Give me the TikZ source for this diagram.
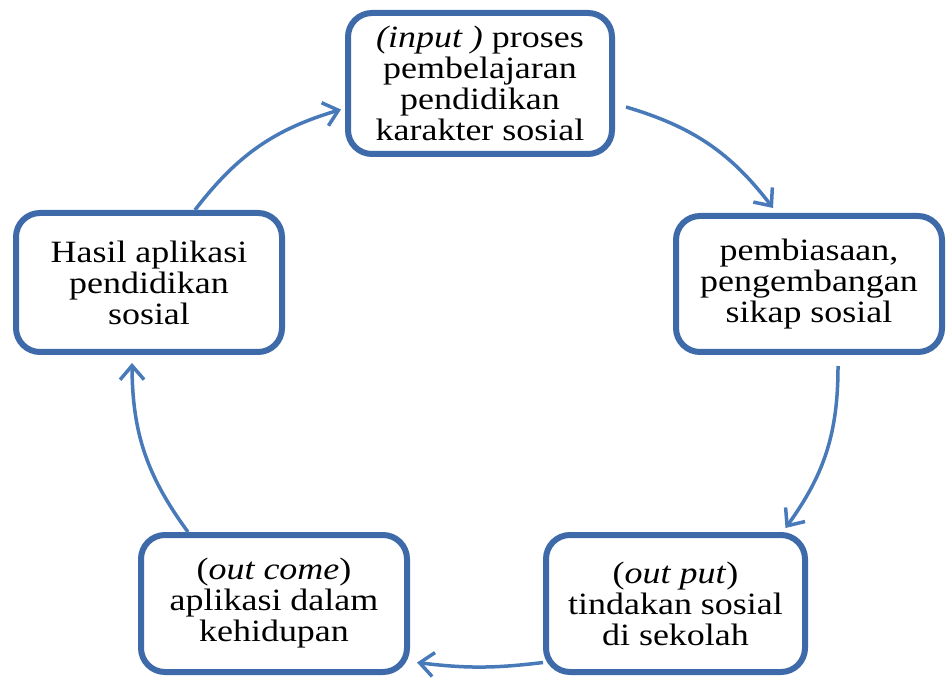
\documentclass[tikz,border=0pt]{standalone}
\usepackage{fontspec}
\setmainfont{Liberation Serif}[FakeStretch=1.16]
\usetikzlibrary{arrows.meta}
\definecolor{boxblue}{RGB}{62,106,170}
\definecolor{arrowblue}{RGB}{72,122,186}
\tikzset{
  cyclebox/.style={draw=boxblue, line width=6pt, rounded corners=24pt, fill=white,
    align=center, inner sep=0pt, font=\fontsize{31}{31}\selectfont},
  cyclearrow/.style={draw=arrowblue, line width=3.5pt,
    -{Straight Barb[length=14pt,width=24pt]}}
}
\begin{document}
\begin{tikzpicture}[x=1pt,y=1pt]
\useasboundingbox (0,0) rectangle (947,678);
\node[cyclebox, minimum width=264pt, minimum height=141pt] (T) at (480,594.5)
  {\textit{(input )} proses\\pembelajaran\\pendidikan\\karakter sosial};
\node[cyclebox, minimum width=266pt, minimum height=139pt] (L) at (149,395.5)
  {Hasil aplikasi\\pendidikan\\sosial};
\node[cyclebox, minimum width=266pt, minimum height=136pt] (R) at (809,394)
  {pembiasaan,\\pengembangan\\sikap sosial};
\node[cyclebox, minimum width=266pt, minimum height=137pt] (BL) at (274,74.5)
  {(\textit{out come})\\aplikasi dalam\\kehidupan};
\node[cyclebox, minimum width=259pt, minimum height=137pt] (BR) at (675.5,74.5)
  {(\textit{out put})\\tindakan sosial\\di sekolah};
\draw[cyclearrow] ([xshift=46pt]L.north) to[bend left=18] ([xshift=-4pt,yshift=-26pt]T.west);
\draw[cyclearrow] ([xshift=11pt,yshift=-23.5pt]T.east) to[bend left=18] ([xshift=-36pt,yshift=5pt]R.north);
\draw[cyclearrow] ([xshift=29pt,yshift=-11pt]R.south) to[bend left=18] ([xshift=110pt,yshift=4pt]BR.north);
\draw[cyclearrow] ([yshift=-59pt]BR.west) to[bend left=7] ([xshift=7pt,yshift=-59pt]BL.east);
\draw[cyclearrow] ([xshift=-86pt]BL.north) to[bend left=18] ([xshift=-17pt,yshift=-8pt]L.south);
\end{tikzpicture}
\end{document}
